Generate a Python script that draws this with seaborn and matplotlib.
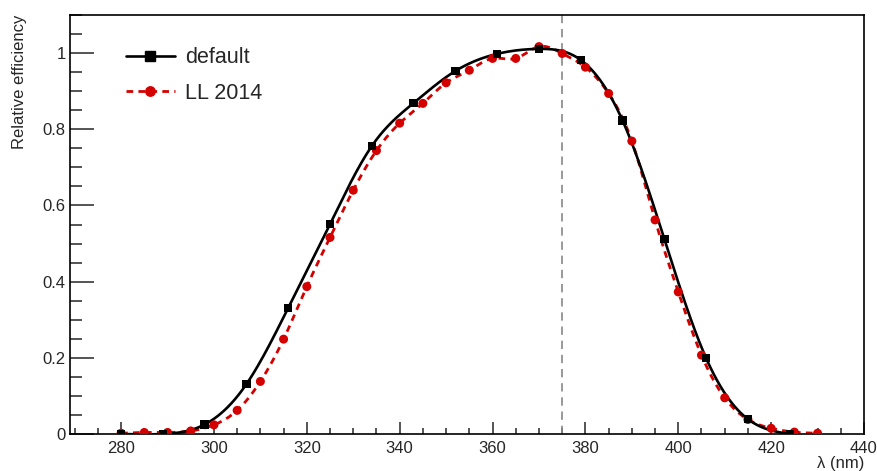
import numpy as np
import pandas as pd
import matplotlib
matplotlib.use("Agg")
import matplotlib.pyplot as plt
from matplotlib.lines import Line2D
from matplotlib.ticker import MultipleLocator
import seaborn as sns

# Wavelengths (nm) and relative efficiencies
default_wl = [280, 289, 298, 307, 316, 325, 334, 343, 352, 361, 370, 379, 388, 397, 406, 415, 424]
default_eff = [0.0, 0.0, 0.025, 0.131, 0.331, 0.551, 0.756, 0.869, 0.953, 0.998, 1.011, 0.982,
               0.823, 0.512, 0.199, 0.039, 0.0]

ll2014_wl = [280, 285, 290, 295, 300, 305, 310, 315, 320, 325, 330, 335, 340, 345, 350, 355,
             360, 365, 370, 375, 380, 385, 390, 395, 400, 405, 410, 415, 420, 425, 430]
ll2014_eff = [0.002, 0.004, 0.004, 0.008, 0.024, 0.062, 0.138, 0.249, 0.387, 0.516, 0.640, 0.744,
              0.816, 0.868, 0.922, 0.955, 0.986, 0.986, 1.017, 0.999, 0.963, 0.894, 0.769, 0.562,
              0.373, 0.207, 0.095, 0.038, 0.015, 0.005, 0.002]

series_labels = ["default", "LL 2014"]
x_ticks = [280, 300, 320, 340, 360, 380, 400, 420, 440]
y_ticks = [0, 0.2, 0.4, 0.6, 0.8, 1.0]
cut_wavelength = 375


def smooth_curve(x, y, n=600):
    """Natural cubic spline through the points, for drawing a smooth line."""
    x = np.asarray(x, float)
    y = np.asarray(y, float)
    m = len(x)
    h = np.diff(x)
    A = np.zeros((m, m))
    b = np.zeros(m)
    A[0, 0] = A[-1, -1] = 1.0
    for i in range(1, m - 1):
        A[i, i - 1] = h[i - 1]
        A[i, i] = 2 * (h[i - 1] + h[i])
        A[i, i + 1] = h[i]
        b[i] = 6 * ((y[i + 1] - y[i]) / h[i] - (y[i] - y[i - 1]) / h[i - 1])
    M = np.linalg.solve(A, b)
    xs = np.linspace(x[0], x[-1], n)
    k = np.clip(np.searchsorted(x, xs) - 1, 0, m - 2)
    x0, x1 = x[k], x[k + 1]
    hk = x1 - x0
    a = (x1 - xs) / hk
    c = (xs - x0) / hk
    ys = (a * y[k] + c * y[k + 1]
          + ((a ** 3 - a) * M[k] + (c ** 3 - c) * M[k + 1]) * hk ** 2 / 6)
    return xs, ys


sns.set_theme(style="white")
plt.rcParams["font.family"] = ["Liberation Sans", "DejaVu Sans"]

fig = plt.figure(figsize=(8.78, 4.71), dpi=100)
ax = fig.add_axes([70 / 878, 37 / 471, 794 / 878, 419 / 471])

red = "#d40000"
red_dash = (0, (2.4, 1.9))

# dashed reference line
ax.axvline(cut_wavelength, color="#888888", lw=1.2, ls=(0, (5, 3.5)), zorder=1)

# smooth curves
xs_d, ys_d = smooth_curve(default_wl, default_eff)
xs_l, ys_l = smooth_curve(ll2014_wl, ll2014_eff)
sns.lineplot(x=xs_l, y=ys_l, ax=ax, color=red, lw=2.0, linestyle=red_dash,
             sort=False, estimator=None, zorder=2)
sns.lineplot(x=xs_d, y=ys_d, ax=ax, color="black", lw=1.9, sort=False, estimator=None, zorder=3)

# data markers
sns.scatterplot(x=ll2014_wl, y=ll2014_eff, ax=ax, color=red, marker="o", s=42,
                edgecolor="none", zorder=4)
sns.scatterplot(x=default_wl, y=default_eff, ax=ax, color="black", marker="s", s=36,
                edgecolor="none", zorder=5)

ax.set_xlim(269, 440)
ax.set_ylim(0, 1.1)

ax.set_xticks(x_ticks)
ax.set_xticklabels([str(t) for t in x_ticks])
ax.set_yticks(y_ticks)
ax.set_yticklabels(["0", "0.2", "0.4", "0.6", "0.8", "1"])
ax.xaxis.set_minor_locator(MultipleLocator(5))
ax.yaxis.set_minor_locator(MultipleLocator(0.05))

ax.tick_params(axis="x", which="major", direction="in", length=9, width=1.1,
               labelsize=12, pad=5, bottom=True, top=False)
ax.tick_params(axis="x", which="minor", direction="in", length=4.5, width=1.1,
               bottom=True, top=False)
ax.tick_params(axis="y", which="major", direction="in", length=17.5, width=1.1,
               labelsize=12, pad=3, left=True, right=False)
ax.tick_params(axis="y", which="minor", direction="in", length=8.7, width=1.1,
               left=True, right=False)
for s in ax.spines.values():
    s.set_visible(True)
    s.set_color("black")
    s.set_linewidth(1.2)

ax.set_xlabel("λ (nm)", loc="right", fontsize=12)
ax.xaxis.set_label_coords(1.0, -0.052)
ax.set_ylabel("Relative efficiency", loc="top", fontsize=12)
ax.yaxis.set_label_coords(-0.054, 1.0)

handles = [
    Line2D([0], [0], color="black", lw=1.9, marker="s", markersize=6.5),
    Line2D([0], [0], color=red, lw=2.0, linestyle=red_dash, marker="o", markersize=6.8),
]
leg = ax.legend(handles, series_labels, loc="upper left", bbox_to_anchor=(0.046, 0.969),
                frameon=False, fontsize=15.5, handlelength=2.28, handletextpad=0.46,
                labelspacing=0.68)

fig.savefig("out.png", dpi=100)
